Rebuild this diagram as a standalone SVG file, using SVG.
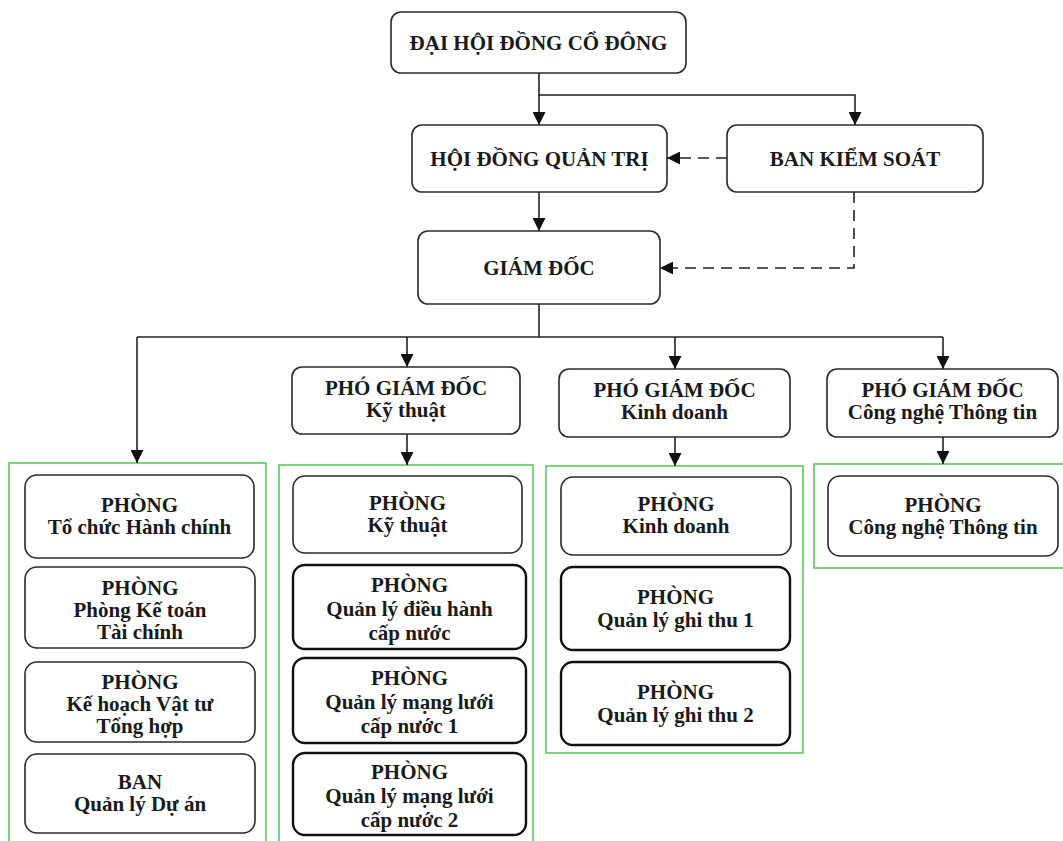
<svg xmlns="http://www.w3.org/2000/svg" width="1063" height="841" viewBox="0 0 1063 841">
<style>
.bg{fill:#ffffff}
.box{fill:#ffffff;stroke:#2a2a2a;stroke-width:1.6}
.box2{fill:#ffffff;stroke:#111111;stroke-width:2.4}
.grp{fill:none;stroke:#5fc860;stroke-width:1.6}
.t{font-family:"Liberation Serif","Times New Roman",serif;font-weight:bold;font-size:21px;fill:#1a1a1a;text-anchor:middle}
.ln{fill:none;stroke:#222;stroke-width:1.6}
.dash{fill:none;stroke:#222;stroke-width:1.6;stroke-dasharray:11 7}
</style>
<defs>
<marker id="ah" viewBox="0 0 12 12" refX="12" refY="6" markerWidth="13" markerHeight="13" markerUnits="userSpaceOnUse" orient="auto">
<path d="M0,0 L12,6 L0,12 Z" fill="#111"/>
</marker>
</defs>
<rect class="bg" x="0" y="0" width="1063" height="841"/>

<g id="groups">
<rect class="grp" x="9" y="463" width="257" height="400"/>
<rect class="grp" x="279" y="465" width="254" height="400"/>
<rect class="grp" x="546" y="466" width="257" height="287"/>
<rect class="grp" x="814" y="464" width="260" height="104"/>
</g>

<g id="connectors">
<path class="ln" d="M539,73 V125" marker-end="url(#ah)"/>
<path class="ln" d="M539,95 H855 V125" marker-end="url(#ah)"/>
<path class="dash" d="M727,158 H667" marker-end="url(#ah)"/>
<path class="ln" d="M539,192 V231" marker-end="url(#ah)"/>
<path class="dash" d="M854,192 V268 H660" marker-end="url(#ah)"/>
<path class="ln" d="M539,304 V337"/>
<path class="ln" d="M137,337 H943"/>
<path class="ln" d="M137,337 V463" marker-end="url(#ah)"/>
<path class="ln" d="M407,337 V367" marker-end="url(#ah)"/>
<path class="ln" d="M675,337 V369" marker-end="url(#ah)"/>
<path class="ln" d="M943,337 V369" marker-end="url(#ah)"/>
<path class="ln" d="M407,434 V465" marker-end="url(#ah)"/>
<path class="ln" d="M675,437 V466" marker-end="url(#ah)"/>
<path class="ln" d="M943,437 V464" marker-end="url(#ah)"/>
</g>

<g id="dhdcd">
<rect class="box" x="391" y="12" width="295" height="61" rx="10"/>
<text class="t" x="538.5" y="50">ĐẠI HỘI ĐỒNG CỔ ĐÔNG</text>
</g>
<g id="hdqt">
<rect class="box" x="412" y="125" width="255" height="67" rx="10"/>
<text class="t" x="539.5" y="166">HỘI ĐỒNG QUẢN TRỊ</text>
</g>
<g id="bks">
<rect class="box" x="727" y="125" width="256" height="67" rx="10"/>
<text class="t" x="855" y="166">BAN KIỂM SOÁT</text>
</g>
<g id="gd">
<rect class="box" x="418" y="231" width="242" height="73" rx="10"/>
<text class="t" x="539" y="275">GIÁM ĐỐC</text>
</g>

<g id="pgd-kt">
<rect class="box" x="292" y="367" width="228" height="67" rx="10"/>
<text class="t" x="406" y="395">PHÓ GIÁM ĐỐC</text>
<text class="t" x="406" y="417">Kỹ thuật</text>
</g>
<g id="pgd-kd">
<rect class="box" x="559" y="369" width="231" height="68" rx="10"/>
<text class="t" x="674.5" y="397">PHÓ GIÁM ĐỐC</text>
<text class="t" x="674.5" y="419">Kinh doanh</text>
</g>
<g id="pgd-cntt">
<rect class="box" x="827" y="369" width="231" height="68" rx="10"/>
<text class="t" x="942.5" y="397">PHÓ GIÁM ĐỐC</text>
<text class="t" x="942.5" y="419">Công nghệ Thông tin</text>
</g>

<g id="p-tchc">
<rect class="box" x="25" y="475" width="229" height="83" rx="12"/>
<text class="t" x="139.5" y="512">PHÒNG</text>
<text class="t" x="139.5" y="534">Tổ chức Hành chính</text>
</g>
<g id="p-ktoan">
<rect class="box" x="25" y="567" width="230" height="81" rx="12"/>
<text class="t" x="140" y="595">PHÒNG</text>
<text class="t" x="140" y="617">Phòng Kế toán</text>
<text class="t" x="140" y="639">Tài chính</text>
</g>
<g id="p-khvt">
<rect class="box" x="25" y="662" width="230" height="80" rx="12"/>
<text class="t" x="140" y="689">PHÒNG</text>
<text class="t" x="140" y="711">Kế hoạch Vật tư</text>
<text class="t" x="140" y="733">Tổng hợp</text>
</g>
<g id="b-qlda">
<rect class="box" x="25" y="754" width="230" height="79" rx="12"/>
<text class="t" x="140" y="789">BAN</text>
<text class="t" x="140" y="811">Quản lý Dự án</text>
</g>

<g id="p-kythuat">
<rect class="box" x="293" y="476" width="229" height="77" rx="12"/>
<text class="t" x="407.5" y="510">PHÒNG</text>
<text class="t" x="407.5" y="532">Kỹ thuật</text>
</g>
<g id="p-qldhcn">
<rect class="box2" x="293" y="565" width="233" height="84" rx="12"/>
<text class="t" x="409.5" y="592">PHÒNG</text>
<text class="t" x="409.5" y="616">Quản lý điều hành</text>
<text class="t" x="409.5" y="640">cấp nước</text>
</g>
<g id="p-qlml1">
<rect class="box2" x="293" y="658" width="233" height="85" rx="12"/>
<text class="t" x="409.5" y="685">PHÒNG</text>
<text class="t" x="409.5" y="709">Quản lý mạng lưới</text>
<text class="t" x="409.5" y="733">cấp nước 1</text>
</g>
<g id="p-qlml2">
<rect class="box2" x="293" y="753" width="233" height="82" rx="12"/>
<text class="t" x="409.5" y="779">PHÒNG</text>
<text class="t" x="409.5" y="803">Quản lý mạng lưới</text>
<text class="t" x="409.5" y="827">cấp nước 2</text>
</g>

<g id="p-kd">
<rect class="box" x="561" y="477" width="230" height="78" rx="12"/>
<text class="t" x="676" y="511">PHÒNG</text>
<text class="t" x="676" y="533">Kinh doanh</text>
</g>
<g id="p-qlgt1">
<rect class="box2" x="561" y="567" width="229" height="83" rx="12"/>
<text class="t" x="675.5" y="604">PHÒNG</text>
<text class="t" x="675.5" y="627">Quản lý ghi thu 1</text>
</g>
<g id="p-qlgt2">
<rect class="box2" x="561" y="662" width="229" height="83" rx="12"/>
<text class="t" x="675.5" y="699">PHÒNG</text>
<text class="t" x="675.5" y="722">Quản lý ghi thu 2</text>
</g>

<g id="p-cntt">
<rect class="box" x="828" y="476" width="230" height="80" rx="12"/>
<text class="t" x="943" y="512">PHÒNG</text>
<text class="t" x="943" y="534">Công nghệ Thông tin</text>
</g>
</svg>
